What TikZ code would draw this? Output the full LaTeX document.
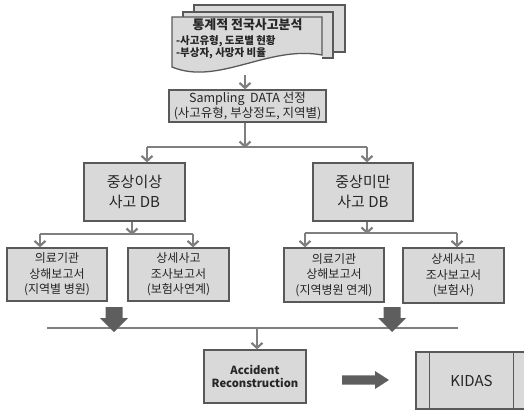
\documentclass[tikz,border=0pt]{standalone}
\usepackage{fontspec}
\setmainfont{Noto Sans CJK KR}
\usetikzlibrary{arrows.meta}
\definecolor{boxfill}{HTML}{D9D9D9}
\definecolor{boxline}{HTML}{595959}
\definecolor{connc}{HTML}{7F7F7F}
\definecolor{thickc}{HTML}{5E5E5E}
\definecolor{txt}{HTML}{262626}
\begin{document}
\begin{tikzpicture}[x=1pt,y=-1pt,
  box/.style={draw=boxline, fill=boxfill, line width=1.3pt, inner sep=0pt, align=center, text=txt},
  docbox/.style={draw=boxline, fill=boxfill, line width=1.3pt, line join=miter},
  conn/.style={draw=connc, line width=2.2pt},
  arr/.style={conn, -{Straight Barb[length=5pt,width=11pt]}},
  thickarr/.style={fill=thickc, draw=none},
  fdb/.style={font=\fontsize{15}{19.5}\selectfont},
  fsm/.style={font=\fontsize{12}{15.5}\selectfont}
]
\useasboundingbox (0,0) rectangle (524,412);

% multi-document shape
\fill[boxfill] (194,12) -- (194,5) -- (345,5) -- (345,52) -- (333,52) -- (333,12) -- cycle;
\draw[docbox, fill=none] (194,12) -- (194,5) -- (345,5) -- (345,52) -- (333,52);
\fill[boxfill] (183,17) -- (183,12) -- (333,12) -- (333,58) -- (322,58) -- (322,17) -- cycle;
\draw[docbox, fill=none] (183,17) -- (183,12) -- (333,12) -- (333,58) -- (322,58);
\draw[docbox] (172,67) -- (172,17) -- (322,17) -- (322,55) .. controls (268,45) and (218,86) .. (172,67) -- cycle;
\node[text=txt, font=\bfseries\fontsize{12.9}{14}\selectfont] (doctitle) at (247.5,25) {통계적 전국사고분석};
\node[text=txt, anchor=west, align=left, inner sep=0pt, font=\bfseries\fontsize{10.5}{11}\selectfont] (doclines) at (176,47.5) {-사고유형, 도로별 현황\\-부상자, 사망자 비율};
\coordinate (docbot) at (245,75);

% sampling
\node[box, minimum width=157pt, minimum height=32pt, font=\fontsize{12.5}{13.5}\selectfont] (samp) at (247.5,106) {Sampling~~DATA 선정\\(사고유형, 부상정도, 지역별)};

% DB boxes
\node[box, fdb, minimum width=101pt, minimum height=58pt] (dbL) at (134.5,192) {중상이상\\사고 DB};
\node[box, fdb, minimum width=100pt, minimum height=58pt] (dbR) at (363,192) {중상미만\\사고 DB};

% report boxes
\node[box, fsm, minimum width=100pt, minimum height=53pt] (b1) at (57,274.5) {의료기관\\상해보고서\\(지역별 병원)};
\node[box, fsm, minimum width=101pt, minimum height=53pt] (b2) at (178.5,274.5) {상세사고\\조사보고서\\(보험사연계)};
\node[box, fsm, minimum width=100pt, minimum height=54pt] (b3) at (334,275) {의료기관\\상해보고서\\(지역병원 연계)};
\node[box, fsm, minimum width=101pt, minimum height=55pt] (b4) at (453.5,275.5) {상세사고\\조사보고서\\(보험사)};

% bottom boxes
\node[box, minimum width=102pt, minimum height=53pt, font=\bfseries\fontsize{11.2}{13.5}\selectfont] (acc) at (255,376.5) {Accident\\Reconstruction};
\node[box, minimum width=111pt, minimum height=57pt, font=\fontsize{15}{17}\selectfont] (kidas) at (471.5,380.5) {KIDAS};
\draw[boxline, line width=1.3pt] ([xshift=14pt]kidas.north west) -- ([xshift=14pt]kidas.south west);
\draw[boxline, line width=1.3pt] ([xshift=-14pt]kidas.north east) -- ([xshift=-14pt]kidas.south east);

% connectors: top
\draw[arr] (docbot) -- (docbot |- samp.north);
\coordinate (s1) at (245,147);
\coordinate (sL) at (147,147);
\coordinate (sR) at (367,147);
\draw[arr] (samp.south -| s1) -- ([yshift=-1pt]s1);
\draw[conn] (sL) -- (sR);
\draw[arr] (sL) -- (sL |- dbL.north);
\draw[arr] (sR) -- (sR |- dbR.north);

% left DB split
\coordinate (lL) at (132,234);
\coordinate (lA) at (40,234);
\coordinate (lB) at (193,234);
\draw[arr] (dbL.south -| lL) -- ([yshift=-1pt]lL);
\draw[conn] (lA) -- (lB);
\draw[arr] (lA) -- (lA |- b1.north);
\draw[arr] (lB) -- (lB |- b2.north);

% right DB split
\coordinate (rL) at (367,233);
\coordinate (rA) at (305,233);
\coordinate (rB) at (457,233);
\draw[arr] (dbR.south -| rL) -- ([yshift=-1pt]rL);
\draw[conn] (rA) -- (rB);
\draw[arr] (rA) -- (rA |- b3.north);
\draw[arr] (rB) -- (rB |- b4.north);

% bottom merge line
\coordinate (mA) at (47,328);
\coordinate (mB) at (458,328);
\coordinate (mC) at (257,328);
\draw[conn, line width=2pt] (mA) -- (mB);
\draw[arr] (mC) -- (mC |- acc.north);

% thick down arrows
\fill[thickarr] (105.5,307) -- (122.5,307) -- (122.5,318) -- (128,318) -- (114,332) -- (100,318) -- (105.5,318) -- cycle;
\fill[thickarr] (383.5,307) -- (400.5,307) -- (400.5,318) -- (406,318) -- (392,332) -- (378,318) -- (383.5,318) -- cycle;
% thick right arrow
\fill[thickarr] (342,375.3) -- (375,375.3) -- (375,371) -- (389,380) -- (375,389) -- (375,384.7) -- (342,384.7) -- cycle;
\end{tikzpicture}
\end{document}
